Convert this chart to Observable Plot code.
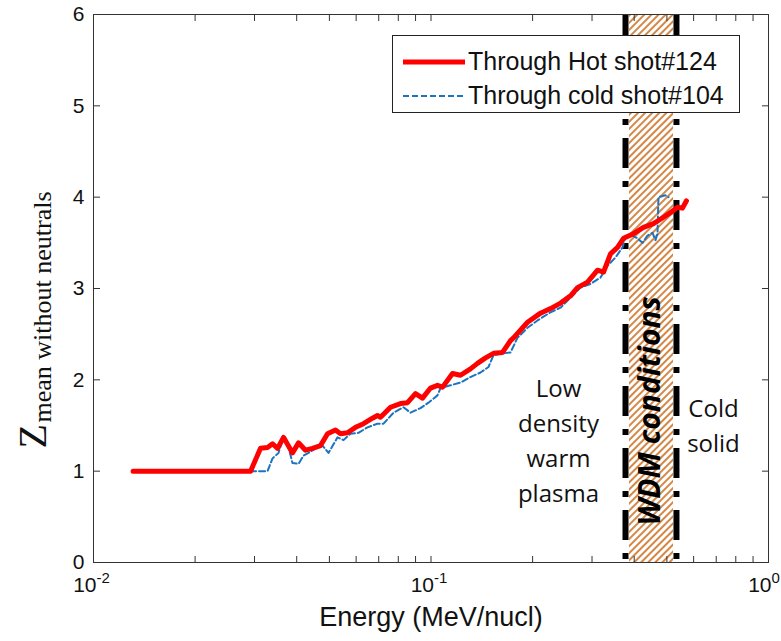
<!DOCTYPE html>
<html><head><meta charset="utf-8">
<script src="https://cdn.jsdelivr.net/npm/d3@7"></script>
<script src="https://cdn.jsdelivr.net/npm/@observablehq/plot@0.6"></script>
<style>
body{margin:0;background:#fff;}
#wrap{position:relative;width:781px;height:641px;}
#legend{position:absolute;left:392px;top:35px;width:348px;height:78px;border:1px solid #222;background:#fff;box-sizing:border-box;font-family:"Liberation Sans",Arial,sans-serif;font-size:25px;color:#111;}
#legend .row{position:absolute;left:10px;display:flex;align-items:center;white-space:nowrap;}
#legend svg{display:block;margin-right:3px;}
</style></head><body><div id="wrap"></div>
<script>
// Series: Through Hot shot#124
const hotE = [0.0131,0.0292,0.03125,0.03278,0.03392,0.0351,0.03656,0.03887,0.0405,0.04248,0.04456,0.04706,0.04936,0.05212,0.05393,0.05656,0.05975,0.0631,0.06708,0.0694,0.07086,0.07586,0.08121,0.08518,0.08996,0.09437,0.09966,0.1045,0.1082,0.1158,0.1223,0.1309,0.1373,0.1451,0.1532,0.1629,0.172,0.1756,0.1932,0.2111,0.226,0.242,0.2591,0.2717,0.2909,0.3115,0.3245,0.3403,0.357,0.3719,0.3981,0.4262,0.4563,0.4885,0.5123,0.5373,0.556,0.5714];
const hotZ = [1,1,1.25,1.26,1.3,1.25,1.37,1.2,1.31,1.23,1.25,1.28,1.41,1.45,1.41,1.42,1.48,1.52,1.58,1.61,1.59,1.7,1.74,1.75,1.85,1.8,1.91,1.94,1.92,2.07,2.05,2.12,2.18,2.24,2.29,2.3,2.43,2.46,2.63,2.73,2.78,2.84,2.92,3.01,3.07,3.2,3.18,3.38,3.45,3.55,3.6,3.67,3.71,3.78,3.83,3.89,3.88,3.96];
// Series: Through cold shot#104
const coldE = [0.0131,0.03278,0.03392,0.03533,0.03656,0.03783,0.03887,0.0405,0.04191,0.04336,0.04548,0.0477,0.04969,0.05284,0.05505,0.05774,0.06098,0.06484,0.0694,0.07232,0.07743,0.0829,0.08694,0.09309,0.09831,0.1045,0.1067,0.1142,0.1223,0.1309,0.1402,0.148,0.1532,0.1629,0.172,0.1804,0.1932,0.2068,0.226,0.242,0.2591,0.2773,0.2969,0.3179,0.3335,0.3521,0.3694,0.377,0.3954,0.4091,0.4233,0.438,0.4532,0.4625,0.4689,0.4721,0.4952,0.5054];
const coldZ = [1,1,1.14,1.2,1.37,1.26,1.09,1.08,1.17,1.2,1.25,1.28,1.2,1.37,1.34,1.41,1.42,1.48,1.52,1.52,1.64,1.7,1.64,1.69,1.75,1.83,1.91,1.94,1.97,2.03,2.08,2.14,2.27,2.29,2.3,2.46,2.57,2.65,2.74,2.79,2.9,3.01,3.05,3.12,3.25,3.34,3.45,3.56,3.58,3.55,3.5,3.58,3.61,3.53,3.6,4.0,4.02,4.0];
const seriesNames = ["Through Hot shot#124", "Through cold shot#104"];
// Axes
const xMajor = [0.01, 0.1, 1];
const xMajorExp = ["-2", "-1", "0"];
const xMinorMult = [1,2,3,4,5,6,7,8,9];
const yTicks = [0,1,2,3,4,5,6];
const xLabel = "Energy (MeV/nucl)";
const yLabelMain = "Z";
const yLabelSub = "mean without neutrals";
// WDM region (energy bounds)
const wdmLines = [0.377, 0.5337];
const wdmBand = [0.3875, 0.5231];
// Annotations
const annoText = ["Low\ndensity\nwarm\nplasma", "Cold\nsolid"];
const annoE = [0.2386, 0.687];
const annoZ = [1.36, 1.52];
const wdmText = "WDM conditions";
const wdmTextE = 0.447;
const wdmTextZ = 1.66;

const hot = hotE.map((e,i)=>({e, z: hotZ[i]}));
const cold = coldE.map((e,i)=>({e, z: coldZ[i]}));
const xAll = [];
[0.01, 0.1].forEach(d => xMinorMult.forEach(m => xAll.push(+(d*m).toPrecision(3))));
xAll.push(1);
const annos = annoText.map((t,i)=>({t, e: annoE[i], z: annoZ[i]}));

const redC = "#ff0000", blueC = "#1a74c0";
const font = "'Liberation Sans', Arial, sans-serif";

const plot = Plot.plot({
  width: 781, height: 641,
  marginLeft: 93, marginRight: 13, marginTop: 14, marginBottom: 79,
  x: {type: "log", domain: [0.01, 1]},
  y: {domain: [0, 6]},
  style: {fontFamily: font, background: "white", color: "#111", overflow: "visible"},
  marks: [
    Plot.rect([wdmBand], {x1: d => d[0], x2: d => d[1], y1: 0, y2: 6, fill: "url(#hatch)"}),
    Plot.ruleX(wdmLines, {x: d => d, stroke: "black", strokeWidth: 6, strokeDasharray: "30,13,6,13"}),
    Plot.line(cold, {x: "e", y: "z", stroke: blueC, strokeWidth: 2, strokeDasharray: "6,3"}),
    Plot.line(hot, {x: "e", y: "z", stroke: redC, strokeWidth: 5, strokeLinejoin: "round"}),
    Plot.frame({stroke: "#333"}),
    Plot.axisY(yTicks, {anchor: "left", tickSize: -7, tickPadding: 16, fontSize: 21, tickFormat: d => String(d), label: null, stroke: "#333", fontFamily: font}),
    Plot.axisY(yTicks, {anchor: "right", tickSize: -7, tickFormat: () => "", label: null, stroke: "#333"}),
    Plot.axisX(xAll, {anchor: "bottom", tickSize: -6, tickFormat: () => "", label: null, stroke: "#333"}),
    Plot.axisX(xAll, {anchor: "top", tickSize: -6, tickFormat: () => "", label: null, stroke: "#333"}),
    Plot.text(xMajor, {x: d => d, frameAnchor: "bottom", dy: 29, dx: 3, text: () => "10", textAnchor: "end", fontSize: 21, fontFamily: font}),
    Plot.text(xMajor, {x: d => d, frameAnchor: "bottom", dy: 20, dx: 3, text: (d, i) => xMajorExp[i], textAnchor: "start", fontSize: 15, fontFamily: font}),
    Plot.text([xLabel], {frameAnchor: "bottom", dy: 63, text: d => d, fontSize: 27, fontFamily: font}),
    Plot.text([yLabelMain], {frameAnchor: "left", dx: -60, dy: 160, rotate: -90, textAnchor: "start", text: d => d, fontSize: 40, fontFamily: "'Liberation Serif', 'DejaVu Serif', serif"}),
    Plot.text([yLabelSub], {frameAnchor: "left", dx: -51, dy: 134, rotate: -90, textAnchor: "start", text: d => d, fontSize: 26, fontFamily: "'Liberation Serif', 'DejaVu Serif', serif"}),
    Plot.text(annos, {x: "e", y: "z", text: "t", fontSize: 24, lineHeight: 1.45, fontFamily: "'Open Sans', sans-serif", fill: "#111"}),
    Plot.text([wdmText], {x: () => wdmTextE, y: () => wdmTextZ, text: d => d, rotate: -90, fontSize: 30, fontWeight: "bold", fontStyle: "italic", fontFamily: "'Open Sans', sans-serif", fill: "#000"})
  ]
});

// hatch pattern definition
const svg = d3.select(plot);
const defs = svg.insert("defs", ":first-child");
const pat = defs.append("pattern").attr("id", "hatch").attr("patternUnits", "userSpaceOnUse")
  .attr("width", 5).attr("height", 5).attr("patternTransform", "rotate(45)");
pat.append("rect").attr("width", 5).attr("height", 5).attr("fill", "#fff");
pat.append("line").attr("x1", 1).attr("y1", 0).attr("x2", 1).attr("y2", 5).attr("stroke", "#d07a32").attr("stroke-width", 1.8);

const wrap = document.getElementById("wrap");
wrap.appendChild(plot);

// legend
const leg = document.createElement("div");
leg.id = "legend";
const styles = [{c: redC, w: 5, dash: null}, {c: blueC, w: 2, dash: "6,3"}];
const tops = [11, 45];
seriesNames.forEach((name, i) => {
  const row = document.createElement("div");
  row.className = "row";
  row.style.top = tops[i] + "px";
  const s = styles[i];
  row.innerHTML = `<svg width="62" height="28"><line x1="0" x2="62" y1="14" y2="14" stroke="${s.c}" stroke-width="${s.w}" ${s.dash ? `stroke-dasharray="${s.dash}"` : ""}/></svg><span>${name}</span>`;
  leg.appendChild(row);
});
wrap.appendChild(leg);
</script>
</body></html>
